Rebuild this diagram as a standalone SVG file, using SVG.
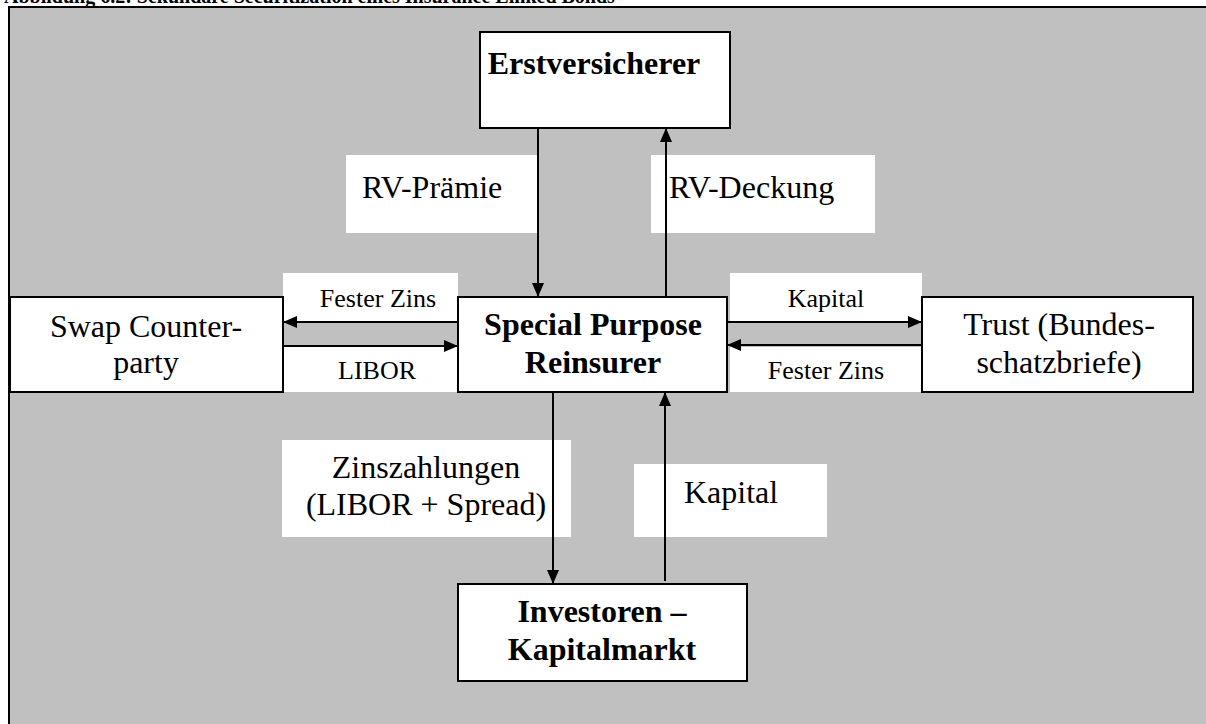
<svg xmlns="http://www.w3.org/2000/svg" width="1206" height="724" viewBox="0 0 1206 724">
  <style>
    .node { fill: #ffffff; stroke: #000000; stroke-width: 2; }
    .label { fill: #ffffff; stroke: none; }
    .edge { stroke: #000000; stroke-width: 2; fill: none; }
    .big { font-family: "Liberation Serif", "Times New Roman", serif; font-size: 32px; fill: #000000; }
    .bold { font-weight: bold; }
    .small { font-family: "Liberation Serif", "Times New Roman", serif; font-size: 26px; fill: #000000; }
  </style>
  <defs>
    <marker id="head" markerWidth="14" markerHeight="12" refX="14" refY="6" orient="auto" markerUnits="userSpaceOnUse">
      <path d="M0,0 L14,6 L0,12 Z" fill="#000000"/>
    </marker>
  </defs>

  <rect width="1206" height="724" fill="#ffffff"/>
  <text x="4" y="3" font-family="Liberation Serif, 'Times New Roman', serif" font-size="20" font-weight="bold">Abbildung 6.2: Sekundäre Securitization eines Insurance Linked Bonds</text>

  <!-- grey panel -->
  <rect x="9" y="7" width="1210" height="730" fill="#c0c0c0" stroke="#000000" stroke-width="2"/>

  <!-- flow labels (white backgrounds) -->
  <g id="labels">
    <rect class="label" x="346" y="155" width="192" height="78"/>
    <text class="big" x="362" y="198">RV-Prämie</text>
    <rect class="label" x="651" y="155" width="224" height="78"/>
    <text class="big" x="669" y="198">RV-Deckung</text>

    <rect class="label" x="283" y="273" width="175" height="48"/>
    <text class="small" x="378" y="307" text-anchor="middle">Fester Zins</text>
    <rect class="label" x="283" y="347" width="175" height="45"/>
    <text class="small" x="377" y="379" text-anchor="middle">LIBOR</text>

    <rect class="label" x="730" y="273" width="192" height="48"/>
    <text class="small" x="826" y="307" text-anchor="middle">Kapital</text>
    <rect class="label" x="730" y="347" width="192" height="45"/>
    <text class="small" x="826" y="379" text-anchor="middle">Fester Zins</text>

    <rect class="label" x="282" y="440" width="289" height="97"/>
    <text class="big" x="426" y="478" text-anchor="middle">Zinszahlungen</text>
    <text class="big" x="426" y="515" text-anchor="middle">(LIBOR + Spread)</text>
    <rect class="label" x="634" y="464" width="193" height="73"/>
    <text class="big" x="684" y="503">Kapital</text>
  </g>

  <!-- connectors -->
  <g id="connectors">
    <line class="edge" x1="538" y1="128" x2="538" y2="297" marker-end="url(#head)"/>
    <line class="edge" x1="666" y1="297" x2="666" y2="128" marker-end="url(#head)"/>
    <line class="edge" x1="458" y1="322" x2="283" y2="322" marker-end="url(#head)"/>
    <line class="edge" x1="283" y1="346" x2="458" y2="346" marker-end="url(#head)"/>
    <line class="edge" x1="727" y1="322" x2="922" y2="322" marker-end="url(#head)"/>
    <line class="edge" x1="922" y1="345" x2="727" y2="345" marker-end="url(#head)"/>
    <line class="edge" x1="553" y1="392" x2="553" y2="584" marker-end="url(#head)"/>
    <line class="edge" x1="665" y1="581" x2="665" y2="392" marker-end="url(#head)"/>
  </g>

  <!-- nodes -->
  <g id="erstversicherer">
    <rect class="node" x="480" y="32" width="250" height="96"/>
    <text class="big bold" x="594" y="74" text-anchor="middle">Erstversicherer</text>
  </g>
  <g id="spr">
    <rect class="node" x="458" y="297" width="269" height="95"/>
    <text class="big bold" x="593" y="335" text-anchor="middle">Special Purpose</text>
    <text class="big bold" x="593" y="373" text-anchor="middle">Reinsurer</text>
  </g>
  <g id="swap">
    <rect class="node" x="10" y="297" width="273" height="95"/>
    <text class="big" x="146" y="337" text-anchor="middle">Swap Counter-</text>
    <text class="big" x="146" y="373" text-anchor="middle">party</text>
  </g>
  <g id="trust">
    <rect class="node" x="922" y="297" width="271" height="95"/>
    <text class="big" x="1059" y="335" text-anchor="middle">Trust (Bundes-</text>
    <text class="big" x="1059" y="373" text-anchor="middle">schatzbriefe)</text>
  </g>
  <g id="investoren">
    <rect class="node" x="458" y="584" width="289" height="97"/>
    <text class="big bold" x="602" y="622" text-anchor="middle">Investoren –</text>
    <text class="big bold" x="602" y="660" text-anchor="middle">Kapitalmarkt</text>
  </g>
</svg>
